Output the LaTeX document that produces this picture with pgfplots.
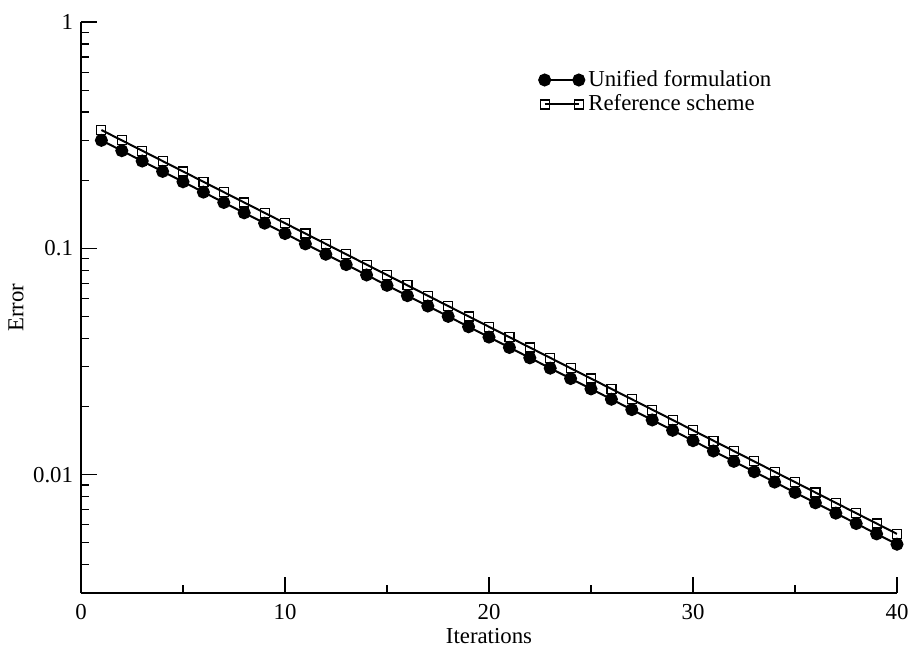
\documentclass[border=0pt]{standalone}
\usepackage{fontspec}
\setmainfont{Liberation Serif}
\usepackage{pgfplots}
\pgfplotsset{compat=1.18}
\begin{document}
\fontsize{11.4}{13.5}\selectfont
\begin{tikzpicture}
\begin{axis}[
  scale only axis, width=408pt, height=285.5pt,
  xmin=0, xmax=40, ymode=log, ymin=0.003, ymax=1,
  axis lines=left, axis line style={-, line width=0.8pt},
  tick align=inside, major tick length=8pt, minor tick length=4pt,
  every tick/.style={black, line width=0.6pt},
  xtick={0,10,20,30,40}, minor xtick={5,15,25,35},
  ytick={0.01,0.1,1}, yticklabels={0.01,0.1,1},
  minor ytick={0.003,0.004,0.005,0.006,0.007,0.008,0.009,0.02,0.03,0.04,0.05,0.06,0.07,0.08,0.09,0.2,0.3,0.4,0.5,0.6,0.7,0.8,0.9},
  /pgf/number format/assume math mode=true,
  tick label style={font=\fontsize{11.4}{13.5}\selectfont},
  xticklabel style={yshift=-1.5pt},
  label style={font=\fontsize{11.4}{13.5}\selectfont},
  xlabel={Iterations}, ylabel={Error},
  xlabel style={yshift=3.5pt},
  ylabel shift=-3pt,
  legend style={at={(rel axis cs:0.561,0.877)}, anchor=west, draw=none, fill=none,
    inner sep=0pt, row sep=-1.5pt, font=\fontsize{11.4}{13.5}\selectfont},
  legend cell align=left,
  legend image code/.code={\draw[#1,mark repeat=1,mark phase=1] plot coordinates {(0cm,0cm) (0.6cm,0cm)};},
]
\addplot[black, line width=1pt, mark=*, mark size=2.75pt, mark options={solid, fill=black}] coordinates {
(1,0.3) (2,0.27) (3,0.243) (4,0.2187) (5,0.19683) (6,0.177147) (7,0.159432) (8,0.143489)
(9,0.12914) (10,0.116226) (11,0.104604) (12,0.094143) (13,0.084729) (14,0.076256) (15,0.06863)
(16,0.061767) (17,0.055591) (18,0.050032) (19,0.045028) (20,0.040526) (21,0.036473) (22,0.032826)
(23,0.029543) (24,0.026589) (25,0.02393) (26,0.021537) (27,0.019383) (28,0.017445) (29,0.0157)
(30,0.01413) (31,0.012717) (32,0.011446) (33,0.010301) (34,0.009271) (35,0.008344) (36,0.007509)
(37,0.006758) (38,0.006083) (39,0.005474) (40,0.004927)
};
\addlegendentry{Unified formulation}
\addplot[black, line width=1pt, mark=square, mark size=2.25pt, mark options={solid, line width=0.6pt}] coordinates {
(1,0.3333) (2,0.3) (3,0.27) (4,0.243) (5,0.2187) (6,0.19683) (7,0.177147) (8,0.159432)
(9,0.143489) (10,0.12914) (11,0.116226) (12,0.104604) (13,0.094143) (14,0.084729) (15,0.076256)
(16,0.06863) (17,0.061767) (18,0.055591) (19,0.050032) (20,0.045028) (21,0.040526) (22,0.036473)
(23,0.032826) (24,0.029543) (25,0.026589) (26,0.02393) (27,0.021537) (28,0.019383) (29,0.017445)
(30,0.0157) (31,0.01413) (32,0.012717) (33,0.011446) (34,0.010301) (35,0.009271) (36,0.008344)
(37,0.007509) (38,0.006758) (39,0.006083) (40,0.005474)
};
\addlegendentry{Reference scheme}
\end{axis}
\pgfresetboundingbox
\path ([shift={(-40.5pt,-27.5pt)}]current axis.south west) rectangle ([shift={(416pt,296.5pt)}]current axis.south west);
\end{tikzpicture}
\end{document}
